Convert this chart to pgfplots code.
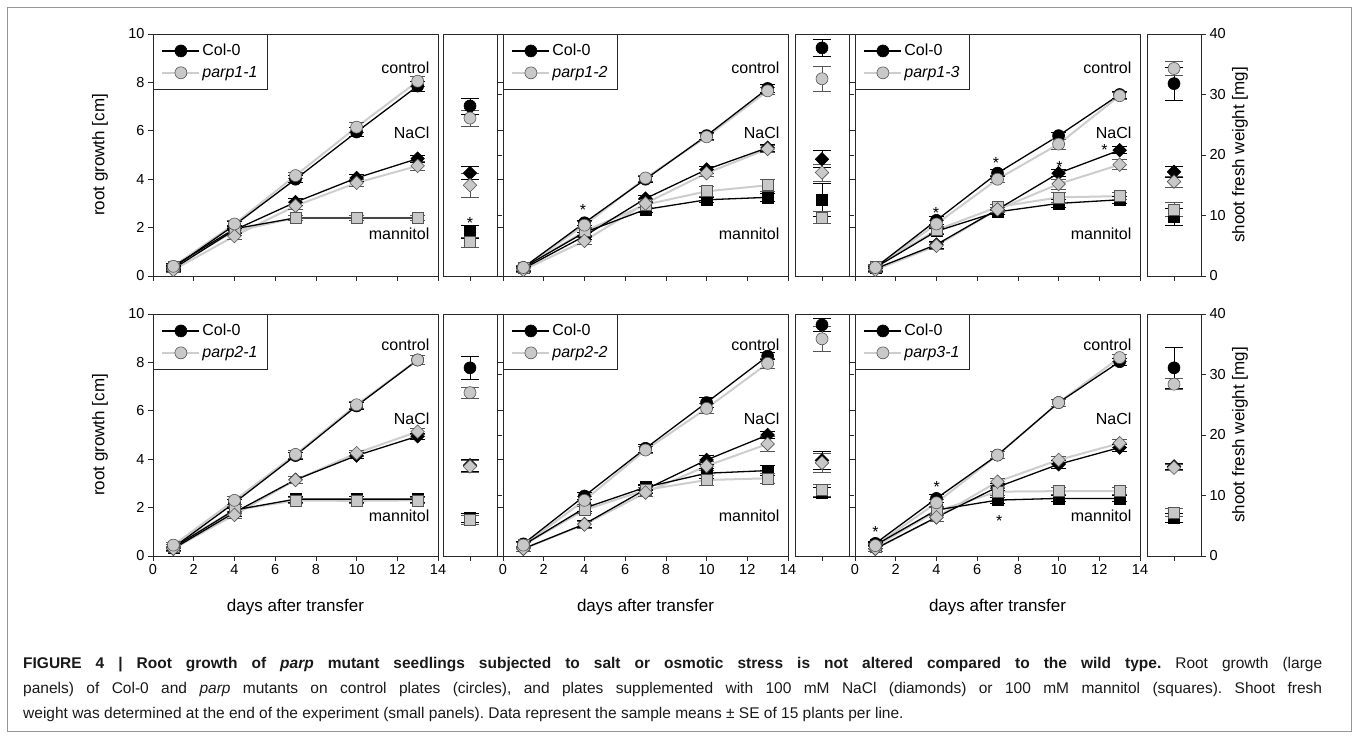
\documentclass[border=0pt]{standalone}
\usepackage{fontspec}
\setmainfont{Liberation Sans}
\usepackage{pgfplots}
\usepackage{pgfplotstable}
\pgfplotsset{compat=1.18}

\definecolor{pfill}{RGB}{200,200,200}
\definecolor{plinec}{RGB}{205,205,205}
\definecolor{pedge}{RGB}{85,85,85}
\definecolor{framec}{RGB}{150,150,150}
\definecolor{axc}{RGB}{40,40,40}

\newcommand\tfs{\fontsize{14.5}{16}\selectfont}
\newcommand\lfs{\fontsize{16}{18}\selectfont}
\newcommand\afs{\fontsize{17}{19}\selectfont}
\newcommand\cfs{\fontsize{15.5}{18}\selectfont}

% root growth [cm]: x = day; cc/pc control, cn/pn NaCl, cm/pm mannitol; *e = SE
\pgfplotstableread{
x  cc   cce  pc   pce  cn   cne  pn   pne  cm   cme  pm   pme
1  0.35 0.10 0.40 0.10 0.30 0.10 0.25 0.10 0.40 0.12 0.40 0.10
4  2.10 0.15 2.15 0.15 1.90 0.15 1.65 0.15 1.95 0.15 1.85 0.15
7  4.00 0.15 4.15 0.12 3.05 0.15 2.90 0.15 2.40 0.12 2.40 0.10
10 5.95 0.20 6.15 0.20 4.05 0.15 3.85 0.15 2.40 0.10 2.40 0.10
13 7.85 0.20 8.05 0.20 4.85 0.15 4.55 0.20 2.40 0.10 2.40 0.10
}\tA
\pgfplotstableread{
x  cc   cce  pc   pce  cn   cne  pn   pne  cm   cme  pm   pme
1  0.35 0.10 0.35 0.10 0.30 0.10 0.25 0.10 0.35 0.10 0.35 0.10
4  2.20 0.12 2.10 0.15 1.65 0.15 1.45 0.15 1.80 0.15 1.85 0.15
7  4.00 0.12 4.05 0.12 3.20 0.15 3.00 0.15 2.75 0.10 2.95 0.12
10 5.80 0.15 5.75 0.15 4.40 0.15 4.25 0.15 3.15 0.12 3.50 0.20
13 7.75 0.15 7.65 0.15 5.30 0.15 5.25 0.15 3.25 0.15 3.75 0.25
}\tB
\pgfplotstableread{
x  cc   cce  pc   pce  cn   cne  pn   pne  cm   cme  pm   pme
1  0.35 0.10 0.35 0.10 0.30 0.10 0.25 0.10 0.35 0.10 0.40 0.10
4  2.30 0.15 2.15 0.15 1.30 0.15 1.25 0.15 1.85 0.12 1.90 0.15
7  4.25 0.15 4.00 0.15 2.75 0.10 2.75 0.10 2.65 0.12 2.85 0.12
10 5.80 0.15 5.45 0.20 4.25 0.15 3.80 0.20 3.00 0.15 3.25 0.20
13 7.50 0.15 7.45 0.15 5.20 0.15 4.60 0.20 3.15 0.15 3.30 0.15
}\tC
\pgfplotstableread{
x  cc   cce  pc   pce  cn   cne  pn   pne  cm   cme  pm   pme
1  0.35 0.12 0.45 0.10 0.30 0.10 0.30 0.10 0.35 0.12 0.40 0.10
4  2.20 0.15 2.30 0.15 1.80 0.15 1.70 0.15 1.90 0.15 1.90 0.15
7  4.15 0.15 4.20 0.15 3.15 0.15 3.14 0.15 2.35 0.12 2.29 0.12
10 6.20 0.15 6.25 0.15 4.15 0.12 4.25 0.12 2.35 0.12 2.28 0.12
13 8.10 0.20 8.10 0.20 4.95 0.12 5.14 0.12 2.35 0.12 2.30 0.12
}\tD
\pgfplotstableread{
x  cc   cce  pc   pce  cn   cne  pn   pne  cm   cme  pm   pme
1  0.50 0.10 0.45 0.10 0.30 0.10 0.30 0.10 0.45 0.10 0.45 0.10
4  2.48 0.15 2.30 0.15 1.32 0.15 1.30 0.15 1.98 0.15 1.90 0.15
7  4.45 0.15 4.38 0.15 2.75 0.15 2.62 0.15 2.84 0.12 2.73 0.12
10 6.34 0.20 6.10 0.20 3.97 0.20 3.72 0.20 3.42 0.20 3.14 0.20
13 8.26 0.15 7.96 0.20 5.00 0.15 4.63 0.30 3.53 0.20 3.21 0.20
}\tE
\pgfplotstableread{
x  cc   cce  pc   pce  cn   cne  pn   pne  cm   cme  pm   pme
1  0.52 0.10 0.43 0.10 0.30 0.10 0.30 0.10 0.45 0.12 0.40 0.10
4  2.38 0.15 2.20 0.15 1.60 0.15 1.60 0.15 1.90 0.15 1.85 0.15
7  4.17 0.15 4.17 0.15 2.85 0.15 3.07 0.15 2.31 0.12 2.66 0.15
10 6.34 0.15 6.34 0.15 3.79 0.15 3.97 0.15 2.38 0.12 2.68 0.15
13 8.03 0.15 8.20 0.15 4.48 0.15 4.66 0.15 2.38 0.12 2.68 0.15
}\tF
% shoot fresh weight [mg]
\pgfplotstableread{
x cc   cce pc   pce cn   cne pn   pne cm   cme pm   pme
1 28.1 1.3 26.1 1.3 17.0 1.1 15.0 2.0 7.3  1.0 5.6  0.8
}\sA
\pgfplotstableread{
x cc   cce pc   pce cn   cne pn   pne cm   cme pm   pme
1 37.7 1.4 32.6 2.1 19.3 1.4 17.1 1.4 12.6 2.7 9.7  1.0
}\sB
\pgfplotstableread{
x cc   cce pc   pce cn   cne pn   pne cm   cme pm   pme
1 31.8 2.7 34.3 1.2 17.2 0.9 15.6 0.9 9.8  1.4 11.0 1.1
}\sC
\pgfplotstableread{
x cc   cce pc   pce cn   cne pn   pne cm   cme pm   pme
1 31.1 1.9 27.0 0.9 15.0 1.0 14.8 1.0 6.3  0.7 5.95 0.7
}\sD
\pgfplotstableread{
x cc   cce pc   pce cn   cne pn   pne cm   cme pm   pme
1 38.2 1.1 35.9 2.1 15.8 1.5 15.4 1.5 10.5 0.8 10.9 1.0
}\sE
\pgfplotstableread{
x cc   cce pc   pce cn   cne pn   pne cm   cme pm   pme
1 31.1 3.4 28.4 0.9 14.8 0.5 14.6 0.5 6.3  0.7 7.2  0.7
}\sF

\pgfplotsset{
  plsty/.style={no markers, forget plot, plinec, line width=2pt},
  clsty/.style={no markers, forget plot, black, line width=1.3pt},
  errb/.style 2 args={only marks, forget plot,
    error bars/y dir=both, error bars/y explicit,
    error bars/error bar style={#1, line width=0.7pt},
    error bars/error mark options={#1, line width=0.7pt, mark size=#2, rotate=90}},
  baseax/.style={scale only axis, clip=false,
    axis line style={axc, line width=0.8pt},
    every tick/.style={axc, line width=0.7pt},
    tick align=outside, major tick length=5pt,
    tick label style={font=\tfs},
    /pgf/number format/assume math mode=true},
  largeax/.style={baseax, width=285pt, height=242pt,
    xmin=0, xmax=14, ymin=0, ymax=10,
    xtick={0,2,...,14}, ytick={0,2,...,10}, tick pos=left,
    legend image code/.code={\draw[mark repeat=2,mark phase=2] plot coordinates {(0pt,0pt) (18.5pt,0pt) (37pt,0pt)};},
    legend cell align=left,
    legend style={at={(0,1)}, anchor=north west, draw=axc, line width=0.8pt, font=\lfs,
      inner xsep=8pt, inner ysep=8pt, row sep=5pt,
      /tikz/every even column/.append style={column sep=5pt}},
    every axis x label/.style={at={(axis description cs:0.5,0)}, anchor=center, yshift=-51pt, font=\afs},
    every axis y label/.style={at={(axis description cs:0,0.5)}, anchor=center, xshift=-53pt, rotate=90, font=\afs}},
  smallax/.style={baseax, width=54pt, height=242pt,
    xmin=0, xmax=2, ymin=0, ymax=40, xtick={1}, xticklabels={},
    ytick={0,10,...,40}, xtick pos=left, ytick pos=right, yticklabel pos=right,
    every axis y label/.style={at={(axis description cs:1,0.5)}, anchor=center, xshift=39pt, rotate=90, font=\afs}}
}

\newcommand\lns[1]{%
  \addplot[plsty] table[x=x,y=pm]{#1};
  \addplot[plsty] table[x=x,y=pn]{#1};
  \addplot[plsty] table[x=x,y=pc]{#1};
  \addplot[clsty] table[x=x,y=cm]{#1};
  \addplot[clsty] table[x=x,y=cn]{#1};
  \addplot[clsty] table[x=x,y=cc]{#1};
}
\newcommand\mks[2]{%
  \addplot[errb={black}{#2}, mark=square*, mark size=5.5pt, mark options={draw=black, fill=black, line width=0.6pt}] table[x=x,y=cm,y error=cme]{#1};
  \addplot[errb={black}{#2}, mark=square*, mark size=4.8pt, mark options={draw=black, fill=black, line width=0.6pt, rotate=45}] table[x=x,y=cn,y error=cne]{#1};
  \addplot[errb={black}{#2}, mark=*, mark size=6pt, mark options={draw=black, fill=black, line width=0.6pt}] table[x=x,y=cc,y error=cce]{#1};
  \addplot[errb={pedge}{#2}, mark=square*, mark size=5.5pt, mark options={draw=pedge, fill=pfill, line width=0.6pt}] table[x=x,y=pm,y error=pme]{#1};
  \addplot[errb={pedge}{#2}, mark=square*, mark size=4.8pt, mark options={draw=pedge, fill=pfill, line width=0.6pt, rotate=45}] table[x=x,y=pn,y error=pne]{#1};
  \addplot[errb={pedge}{#2}, mark=*, mark size=6pt, mark options={draw=pedge, fill=pfill, line width=0.6pt}] table[x=x,y=pc,y error=pce]{#1};
}
\newcommand\leg{%
  \addlegendimage{black, line width=1.3pt, mark=*, mark size=6pt, mark options={draw=black, fill=black, line width=0.6pt}}
  \addlegendimage{plinec, line width=2pt, mark=*, mark size=6pt, mark options={draw=pedge, fill=pfill, line width=0.6pt}}
}
\newcommand\conds[3]{%
  \node[font=\lfs, anchor=east] at (axis cs:13.75,#1) {control};
  \node[font=\lfs, anchor=east] at (axis cs:13.75,#2) {NaCl};
  \node[font=\lfs, anchor=east] at (axis cs:13.75,#3) {mannitol};
}
\newcommand\sig[2]{\node[font=\lfs, anchor=base, yshift=-9pt, inner sep=0pt] at (axis cs:#1,#2) {*};}

\begin{document}
\frenchspacing
\begin{tikzpicture}
\useasboundingbox (0pt,0pt) rectangle (1358pt,-738pt);
\draw[framec, line width=1pt] (7.5pt,-8pt) rectangle (1351.5pt,-731pt);

% ---------- top row ----------
\begin{axis}[largeax, at={(153pt,-34pt)}, anchor=north west, xticklabels={},
  ylabel={root growth [cm]}, legend entries={Col-0,\textit{parp1-1}}]
\leg \lns\tA \mks\tA{7.5pt} \conds{8.6}{5.9}{1.75}
\end{axis}
\begin{axis}[smallax, at={(443pt,-34pt)}, anchor=north west, yticklabels={}]
\mks\sA{9pt} \sig{1}{9.3}
\end{axis}

\begin{axis}[largeax, at={(503pt,-34pt)}, anchor=north west, xticklabels={}, yticklabels={},
  legend entries={Col-0,\textit{parp1-2}}]
\leg \lns\tB \mks\tB{7.5pt} \conds{8.6}{5.9}{1.75}
\sig{3.93}{2.89}
\end{axis}
\begin{axis}[smallax, at={(795pt,-34pt)}, anchor=north west, yticklabels={}]
\mks\sB{9pt}
\end{axis}

\begin{axis}[largeax, at={(855pt,-34pt)}, anchor=north west, xticklabels={}, yticklabels={},
  legend entries={Col-0,\textit{parp1-3}}]
\leg \lns\tC \mks\tC{7.5pt} \conds{8.6}{5.9}{1.75}
\sig{3.98}{2.76} \sig{6.93}{4.82} \sig{10.04}{4.66} \sig{12.25}{5.34}
\end{axis}
\begin{axis}[smallax, at={(1147pt,-34pt)}, anchor=north west, ylabel={shoot fresh weight [mg]}]
\mks\sC{9pt}
\end{axis}

% ---------- bottom row ----------
\begin{axis}[largeax, at={(153pt,-314pt)}, anchor=north west,
  ylabel={root growth [cm]}, xlabel={days after transfer}, legend entries={Col-0,\textit{parp2-1}}]
\leg \lns\tD \mks\tD{7.5pt} \conds{8.72}{5.69}{1.65}
\end{axis}
\begin{axis}[smallax, at={(443pt,-314pt)}, anchor=north west, yticklabels={}]
\mks\sD{9pt}
\end{axis}

\begin{axis}[largeax, at={(503pt,-314pt)}, anchor=north west, yticklabels={},
  xlabel={days after transfer}, legend entries={Col-0,\textit{parp2-2}}]
\leg \lns\tE \mks\tE{7.5pt} \conds{8.72}{5.69}{1.65}
\end{axis}
\begin{axis}[smallax, at={(795pt,-314pt)}, anchor=north west, yticklabels={}]
\mks\sE{9pt}
\end{axis}

\begin{axis}[largeax, at={(855pt,-314pt)}, anchor=north west, yticklabels={},
  xlabel={days after transfer}, legend entries={Col-0,\textit{parp3-1}}]
\leg \lns\tF \mks\tF{7.5pt} \conds{8.72}{5.69}{1.65}
\sig{1.0}{1.14} \sig{4.01}{3.0} \sig{7.09}{1.6}
\end{axis}
\begin{axis}[smallax, at={(1147pt,-314pt)}, anchor=north west, ylabel={shoot fresh weight [mg]}]
\mks\sF{9pt}
\end{axis}

% ---------- caption ----------
\begin{scope}[every node/.style={anchor=base west, inner sep=0pt, font=\cfs, text=black!90}]
\node at (23pt,-668pt) {\makebox[1299pt][s]{\textbf{FIGURE 4 | Root growth of \textit{parp} mutant seedlings subjected to salt or osmotic stress is not altered compared to the wild type.} Root growth (large}};
\node at (23pt,-693pt) {\makebox[1299pt][s]{panels) of Col-0 and \textit{parp} mutants on control plates (circles), and plates supplemented with 100 mM NaCl (diamonds) or 100 mM mannitol (squares). Shoot fresh}};
\node at (23pt,-718pt) {weight was determined at the end of the experiment (small panels). Data represent the sample means ± SE of 15 plants per line.};
\end{scope}
\end{tikzpicture}
\end{document}
